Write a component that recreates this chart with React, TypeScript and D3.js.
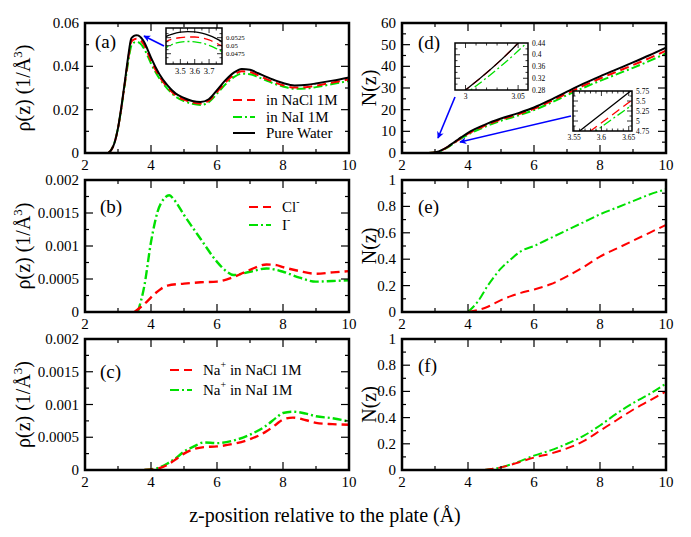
import React from "react";
import * as d3 from "d3";

const RED = "#ff0000";
const GREEN = "#00e000";
const BLACK = "#000000";
const BLUE = "#0000ff";
const FONT = '"Liberation Serif", "DejaVu Serif", serif';

// ---------- data ----------
const xTicks = [2, 4, 6, 8, 10];

// (a) water density
const zWater = [2.7, 2.8, 2.9, 3.0, 3.1, 3.2, 3.3, 3.4, 3.45, 3.5, 3.55, 3.6, 3.65, 3.7, 3.75, 3.8, 3.9, 4.0, 4.25, 4.5, 4.75, 5.0, 5.25, 5.5, 5.75, 6.0, 6.25, 6.5, 6.75, 7.0, 7.25, 7.5, 7.75, 8.0, 8.35, 8.75, 9.0, 9.5, 10];
const rhoPure = [0, 0.0015, 0.005, 0.0115, 0.021, 0.032, 0.0435, 0.0528, 0.0537, 0.0542, 0.0544, 0.0543, 0.0539, 0.0532, 0.0522, 0.0510, 0.0476, 0.0440, 0.0365, 0.0312, 0.0274, 0.0254, 0.0240, 0.0235, 0.0248, 0.0290, 0.0335, 0.0370, 0.0388, 0.0384, 0.0368, 0.0351, 0.0336, 0.0323, 0.0312, 0.0315, 0.0321, 0.0334, 0.0349];
const rhoNaCl = [0, 0.0015, 0.005, 0.0114, 0.0207, 0.0315, 0.0425, 0.0512, 0.0521, 0.0525, 0.0527, 0.0527, 0.0524, 0.0518, 0.0508, 0.0496, 0.0462, 0.0427, 0.0354, 0.0303, 0.0266, 0.0246, 0.0233, 0.0228, 0.0241, 0.0281, 0.0325, 0.0359, 0.0377, 0.0374, 0.0358, 0.0341, 0.0326, 0.0313, 0.0302, 0.0305, 0.0311, 0.0325, 0.0340];
const rhoNaI = [0, 0.0016, 0.0052, 0.0115, 0.0205, 0.031, 0.041, 0.0493, 0.0505, 0.0511, 0.0513, 0.0512, 0.0508, 0.0501, 0.0491, 0.0479, 0.0447, 0.0413, 0.0345, 0.0296, 0.0260, 0.0240, 0.0227, 0.0222, 0.0235, 0.0274, 0.0316, 0.0349, 0.0366, 0.0364, 0.0350, 0.0334, 0.0319, 0.0307, 0.0296, 0.0298, 0.0304, 0.0318, 0.0333];

// (d) water number
const zNPure = [2.8, 3.0, 3.05, 3.2, 3.4, 3.56, 3.65, 3.8, 4.0, 4.5, 5.0, 5.5, 6.0, 6.5, 7.0, 7.5, 8.0, 8.5, 9.0, 9.5, 10];
const nPure = [0, 0.28, 0.44, 1.3, 3.0, 4.75, 5.71, 7.3, 9.3, 13.0, 15.9, 18.3, 21.0, 24.5, 28.3, 32.0, 35.4, 38.6, 41.8, 45.1, 48.6];
const zNNaCl = [2.8, 3.0, 3.05, 3.2, 3.4, 3.58, 3.65, 3.8, 4.0, 4.5, 5.0, 5.5, 6.0, 6.5, 7.0, 7.5, 8.0, 8.5, 9.0, 9.5, 10];
const nNaCl = [0, 0.28, 0.44, 1.25, 2.9, 4.75, 5.46, 7.0, 8.9, 12.5, 15.4, 17.8, 20.4, 23.8, 27.5, 31.1, 34.4, 37.5, 40.6, 43.8, 47.2];
const zNNaI = [2.8, 3.005, 3.058, 3.2, 3.4, 3.59, 3.65, 3.8, 4.0, 4.5, 5.0, 5.5, 6.0, 6.5, 7.0, 7.5, 8.0, 8.5, 9.0, 9.5, 10];
const nNaI = [0, 0.28, 0.44, 1.1, 2.7, 4.75, 5.34, 6.7, 8.5, 12.0, 14.9, 17.2, 19.8, 23.1, 26.7, 30.1, 33.3, 36.3, 39.3, 42.5, 46.0];

// (b) anion density
const zCl = [3.5, 3.7, 3.9, 4.1, 4.3, 4.5, 5.0, 5.5, 6.0, 6.5, 7.0, 7.5, 7.8, 8.0, 8.5, 9.0, 9.5, 10];
const rhoCl = [0, 0.00008, 0.00017, 0.00027, 0.00035, 0.0004, 0.00043, 0.00045, 0.00046, 0.00053, 0.00064, 0.00072, 0.00071, 0.00068, 0.00062, 0.00058, 0.0006, 0.00062];
const zI = [3.6, 3.8, 4.0, 4.2, 4.4, 4.55, 4.7, 5.0, 5.5, 6.0, 6.3, 6.5, 7.0, 7.5, 8.0, 8.5, 9.0, 9.5, 10];
const rhoI = [0, 0.0004, 0.00106, 0.00152, 0.00172, 0.00177, 0.0017, 0.00147, 0.00111, 0.00076, 0.00061, 0.00056, 0.00061, 0.00066, 0.00061, 0.00052, 0.00046, 0.00047, 0.00048];

// (c) cation density
const zNa = [3.8, 4.2, 4.5, 4.8, 5.0, 5.3, 5.6, 6.0, 6.5, 7.0, 7.5, 7.8, 8.0, 8.3, 8.7, 9.0, 9.5, 10];
const rhoNaInNaCl = [0, 0.00002, 0.00008, 0.00018, 0.00025, 0.00032, 0.00035, 0.00036, 0.0004, 0.00047, 0.00059, 0.0007, 0.00077, 0.0008, 0.00076, 0.00072, 0.0007, 0.00069];
const rhoNaInNaI = [0, 0.00003, 0.0001, 0.0002, 0.00028, 0.00036, 0.00042, 0.00041, 0.00045, 0.00054, 0.00068, 0.0008, 0.00087, 0.00089, 0.00086, 0.00082, 0.00079, 0.00074];

// (e) anion number
const zNAnion = [4.0, 4.3, 4.6, 5.0, 5.3, 5.6, 6.0, 6.5, 7.0, 7.5, 8.0, 8.5, 9.0, 9.5, 10];
const nCl = [0, 0.015, 0.04, 0.09, 0.12, 0.145, 0.17, 0.21, 0.27, 0.34, 0.42, 0.48, 0.54, 0.6, 0.66];
const nI = [0, 0.08, 0.2, 0.33, 0.4, 0.46, 0.5, 0.56, 0.62, 0.68, 0.74, 0.79, 0.84, 0.89, 0.93];

// (f) cation number
const zNCation = [4.5, 5.0, 5.5, 6.0, 6.5, 7.0, 7.5, 8.0, 8.5, 9.0, 9.5, 10];
const nNaInNaCl = [0, 0.02, 0.055, 0.095, 0.125, 0.165, 0.22, 0.3, 0.38, 0.46, 0.53, 0.6];
const nNaInNaI = [0, 0.02, 0.06, 0.11, 0.15, 0.2, 0.26, 0.34, 0.43, 0.51, 0.58, 0.66];

// tick values
const yTicksA = [0, 0.02, 0.04, 0.06];
const yTicksIon = [0, 0.0005, 0.001, 0.0015, 0.002];
const yTicksD = [0, 10, 20, 30, 40, 50, 60];
const yTicksN = [0, 0.2, 0.4, 0.6, 0.8, 1];
const insetATicksX = [3.5, 3.6, 3.7];
const insetATicksY = [0.0475, 0.05, 0.0525];
const insetD1TicksX = [3, 3.05];
const insetD1TicksY = [0.28, 0.32, 0.36, 0.4, 0.44];
const insetD2TicksX = [3.55, 3.6, 3.65];
const insetD2TicksY = [4.75, 5, 5.25, 5.5, 5.75];

// ---------- styles ----------
const DASH = "9,5";
const DASHDOT = "9,3,2,3";

type Series = { z: number[]; v: number[]; color: string; dash?: string };

const zip = (z: number[], v: number[]) => z.map((d, i) => [d, v[i]] as [number, number]);

function Lines({ series, xs, ys, width }: { series: Series[]; xs: any; ys: any; width: number }) {
  const line = d3
    .line<[number, number]>()
    .x((d) => xs(d[0]))
    .y((d) => ys(d[1]))
    .curve(d3.curveMonotoneX);
  return (
    <g>
      {series.map((s, i) => (
        <path
          key={i}
          d={line(zip(s.z, s.v)) || ""}
          fill="none"
          stroke={s.color}
          strokeWidth={width}
          strokeDasharray={s.dash}
          strokeLinejoin="round"
        />
      ))}
    </g>
  );
}

type PanelProps = {
  x0: number; x1: number; y0: number; y1: number;
  yDomain: [number, number];
  yTicks: number[];
  yMinorStep: number;
  yFmt: (v: number) => string;
  series: Series[];
  lineWidth?: number;
  tag: string;
  tagX: number; tagY: number;
  ylabel: React.ReactNode;
  ylabelX: number;
  children?: React.ReactNode;
};

function Panel(p: PanelProps) {
  const xs = d3.scaleLinear().domain([2, 10]).range([p.x0, p.x1]);
  const ys = d3.scaleLinear().domain(p.yDomain).range([p.y1, p.y0]);
  const xMinor = d3.range(3, 10, 2);
  const yMinor = d3.range(p.yDomain[0] + p.yMinorStep, p.yDomain[1], p.yMinorStep).filter(
    (v) => !p.yTicks.some((t) => Math.abs(t - v) < p.yMinorStep * 0.01)
  );
  const MJ = 8, MN = 4;
  const ticks: React.ReactNode[] = [];
  xTicks.slice(1, -1).forEach((t, i) => {
    ticks.push(<line key={"xb" + i} x1={xs(t)} x2={xs(t)} y1={p.y1} y2={p.y1 - MJ} />);
    ticks.push(<line key={"xt" + i} x1={xs(t)} x2={xs(t)} y1={p.y0} y2={p.y0 + MJ} />);
  });
  xMinor.forEach((t, i) => {
    ticks.push(<line key={"xbm" + i} x1={xs(t)} x2={xs(t)} y1={p.y1} y2={p.y1 - MN} />);
    ticks.push(<line key={"xtm" + i} x1={xs(t)} x2={xs(t)} y1={p.y0} y2={p.y0 + MN} />);
  });
  p.yTicks.slice(1, -1).forEach((t, i) => {
    ticks.push(<line key={"yl" + i} x1={p.x0} x2={p.x0 + MJ} y1={ys(t)} y2={ys(t)} />);
    ticks.push(<line key={"yr" + i} x1={p.x1} x2={p.x1 - MJ} y1={ys(t)} y2={ys(t)} />);
  });
  yMinor.forEach((t, i) => {
    ticks.push(<line key={"ylm" + i} x1={p.x0} x2={p.x0 + MN} y1={ys(t)} y2={ys(t)} />);
    ticks.push(<line key={"yrm" + i} x1={p.x1} x2={p.x1 - MN} y1={ys(t)} y2={ys(t)} />);
  });
  const clipId = "clip" + p.tag.replace(/[()]/g, "");
  return (
    <g>
      <defs>
        <clipPath id={clipId}>
          <rect x={p.x0} y={p.y0} width={p.x1 - p.x0} height={p.y1 - p.y0} />
        </clipPath>
      </defs>
      <g clipPath={`url(#${clipId})`}>
        <Lines series={p.series} xs={xs} ys={ys} width={p.lineWidth ?? 2} />
      </g>
      <g stroke="#000" strokeWidth={1.2}>{ticks}</g>
      <rect x={p.x0} y={p.y0} width={p.x1 - p.x0} height={p.y1 - p.y0} fill="none" stroke="#000" strokeWidth={2.5} />
      <g style={{ fontFamily: FONT, fontSize: "15px" }} fill="#000">
        {xTicks.map((t) => (
          <text key={"xl" + t} x={xs(t)} y={p.y1 + 17} textAnchor="middle">{t}</text>
        ))}
        {p.yTicks.map((t) => (
          <text key={"yl" + t} x={p.x0 - 6} y={ys(t) + 5} textAnchor="end">{p.yFmt(t)}</text>
        ))}
      </g>
      <text x={p.tagX} y={p.tagY} style={{ fontFamily: FONT, fontSize: "19px" }}>{p.tag}</text>
      <text
        transform={`translate(${p.ylabelX},${(p.y0 + p.y1) / 2}) rotate(-90)`}
        textAnchor="middle"
        style={{ fontFamily: FONT, fontSize: "20px" }}
      >
        {p.ylabel}
      </text>
      {p.children}
    </g>
  );
}

type InsetProps = {
  x0: number; x1: number; y0: number; y1: number;
  xDomain: [number, number]; yDomain: [number, number];
  xTicks: number[]; yTicks: number[];
  xMinor: number[]; yMinor: number[];
  xFmt: (v: number) => string; yFmt: (v: number) => string;
  series: Series[];
  id: string;
  xLabelFont: number; yLabelFont: number;
};

function Inset(p: InsetProps) {
  const xs = d3.scaleLinear().domain(p.xDomain).range([p.x0, p.x1]);
  const ys = d3.scaleLinear().domain(p.yDomain).range([p.y1, p.y0]);
  const MJ = 5, MN = 2.5;
  const ticks: React.ReactNode[] = [];
  const inX = (t: number) => xs(t) > p.x0 + 0.5 && xs(t) < p.x1 - 0.5;
  const inY = (t: number) => ys(t) < p.y1 - 0.5 && ys(t) > p.y0 + 0.5;
  p.xTicks.filter(inX).forEach((t, i) => {
    ticks.push(<line key={"a" + i} x1={xs(t)} x2={xs(t)} y1={p.y1} y2={p.y1 - MJ} />);
    ticks.push(<line key={"b" + i} x1={xs(t)} x2={xs(t)} y1={p.y0} y2={p.y0 + MJ} />);
  });
  p.xMinor.filter(inX).forEach((t, i) => {
    ticks.push(<line key={"c" + i} x1={xs(t)} x2={xs(t)} y1={p.y1} y2={p.y1 - MN} />);
    ticks.push(<line key={"d" + i} x1={xs(t)} x2={xs(t)} y1={p.y0} y2={p.y0 + MN} />);
  });
  p.yTicks.filter(inY).forEach((t, i) => {
    ticks.push(<line key={"e" + i} x1={p.x0} x2={p.x0 + MJ} y1={ys(t)} y2={ys(t)} />);
    ticks.push(<line key={"f" + i} x1={p.x1} x2={p.x1 - MJ} y1={ys(t)} y2={ys(t)} />);
  });
  p.yMinor.filter(inY).forEach((t, i) => {
    ticks.push(<line key={"g" + i} x1={p.x0} x2={p.x0 + MN} y1={ys(t)} y2={ys(t)} />);
    ticks.push(<line key={"h" + i} x1={p.x1} x2={p.x1 - MN} y1={ys(t)} y2={ys(t)} />);
  });
  return (
    <g>
      <defs>
        <clipPath id={p.id}>
          <rect x={p.x0} y={p.y0} width={p.x1 - p.x0} height={p.y1 - p.y0} />
        </clipPath>
      </defs>
      <rect x={p.x0} y={p.y0} width={p.x1 - p.x0} height={p.y1 - p.y0} fill="#fff" />
      <g clipPath={`url(#${p.id})`}>
        <Lines series={p.series} xs={xs} ys={ys} width={1.3} />
      </g>
      <g stroke="#000" strokeWidth={0.8}>{ticks}</g>
      <rect x={p.x0} y={p.y0} width={p.x1 - p.x0} height={p.y1 - p.y0} fill="none" stroke="#000" strokeWidth={1.5} />
      <g style={{ fontFamily: FONT }} fill="#000">
        {p.xTicks.map((t) => (
          <text key={"x" + t} x={xs(t)} y={p.y1 + p.xLabelFont + 1} textAnchor="middle" style={{ fontSize: p.xLabelFont + "px" }}>{p.xFmt(t)}</text>
        ))}
        {p.yTicks.map((t) => (
          <text key={"y" + t} x={p.x1 + 4} y={ys(t) + p.yLabelFont * 0.35} textAnchor="start" style={{ fontSize: p.yLabelFont + "px" }}>{p.yFmt(t)}</text>
        ))}
      </g>
    </g>
  );
}

function Arrow({ x1, y1, x2, y2 }: { x1: number; y1: number; x2: number; y2: number }) {
  return <line x1={x1} y1={y1} x2={x2} y2={y2} stroke={BLUE} strokeWidth={1.6} markerEnd="url(#arrowBlue)" />;
}

function LegendEntry({ x, y, color, dash, label }: { x: number; y: number; color: string; dash?: string; label: React.ReactNode }) {
  return (
    <g>
      <line x1={x} x2={x + 22} y1={y} y2={y} stroke={color} strokeWidth={2} strokeDasharray={dash} />
      <text x={x + 33} y={y + 5} style={{ fontFamily: FONT, fontSize: "15px" }}>{label}</text>
    </g>
  );
}

const rhoLabel = (
  <>
    ρ(z) (1/Å<tspan dy={-8} style={{ fontSize: "13px" }}>3</tspan><tspan dy={8}>)</tspan>
  </>
);

export default function App() {
  const fmt = (v: number) => (v === 0 ? "0" : String(+v.toPrecision(4)));
  const L = { x0: 85, x1: 349 };
  const R = { x0: 402, x1: 666 };
  const r1 = { y0: 23, y1: 153 };
  const r2 = { y0: 180, y1: 312 };
  const r3 = { y0: 339, y1: 470 };

  const waterSeries: Series[] = [
    { z: zWater, v: rhoNaI, color: GREEN, dash: DASHDOT },
    { z: zWater, v: rhoNaCl, color: RED, dash: DASH },
    { z: zWater, v: rhoPure, color: BLACK },
  ];
  const nWaterSeries: Series[] = [
    { z: zNNaI, v: nNaI, color: GREEN, dash: DASHDOT },
    { z: zNNaCl, v: nNaCl, color: RED, dash: DASH },
    { z: zNPure, v: nPure, color: BLACK },
  ];

  return (
    <svg width={691} height={537} viewBox="0 0 691 537" style={{ display: "block", position: "absolute", left: 0, top: 0, background: "#fff", fontFamily: FONT }}>
      <defs>
        <marker id="arrowBlue" viewBox="0 0 10 10" refX={9} refY={5} markerWidth={7} markerHeight={7} orient="auto" markerUnits="userSpaceOnUse">
          <path d="M0,0 L10,5 L0,10 L3,5 z" fill={BLUE} />
        </marker>
      </defs>
      <rect x={0} y={0} width={691} height={537} fill="#fff" />

      {/* (a) */}
      <Panel {...L} {...r1} yDomain={[0, 0.06]} yTicks={yTicksA} yMinorStep={0.01} yFmt={fmt}
        series={waterSeries} tag="(a)" tagX={95} tagY={48} ylabel={rhoLabel} ylabelX={30}>
        <LegendEntry x={233} y={100} color={RED} dash={DASH} label="in NaCl 1M" />
        <LegendEntry x={233} y={117} color={GREEN} dash={DASHDOT} label="in NaI 1M" />
        <LegendEntry x={233} y={133} color={BLACK} label="Pure Water" />
        <Inset id="insA" x0={166} x1={222} y0={28} y1={64} xDomain={[3.4, 3.79]} yDomain={[0.0443, 0.0555]}
          xTicks={insetATicksX} yTicks={insetATicksY} xMinor={[3.45, 3.55, 3.65, 3.75]} yMinor={[0.04625, 0.04875, 0.05125, 0.05375]}
          xFmt={(v) => String(v)} yFmt={(v) => String(v)} series={waterSeries} xLabelFont={8.5} yLabelFont={6.8} />
        <Arrow x1={164} y1={46} x2={144} y2={36} />
      </Panel>

      {/* (d) */}
      <Panel {...R} {...r1} yDomain={[0, 60]} yTicks={yTicksD} yMinorStep={5} yFmt={fmt}
        series={nWaterSeries} tag="(d)" tagX={418} tagY={49} ylabel="N(z)" ylabelX={376}>
        <Inset id="insD1" x0={455} x1={528} y0={43} y1={90} xDomain={[2.99, 3.0594]} yDomain={[0.28, 0.44]}
          xTicks={insetD1TicksX} yTicks={insetD1TicksY} xMinor={[3.01, 3.02, 3.03, 3.04]} yMinor={[0.3, 0.34, 0.38, 0.42]}
          xFmt={(v) => String(v)} yFmt={(v) => String(v)} series={nWaterSeries} xLabelFont={7.5} yLabelFont={7.5} />
        <Inset id="insD2" x0={573} x1={632} y0={91} y1={131} xDomain={[3.548, 3.656]} yDomain={[4.75, 5.75]}
          xTicks={insetD2TicksX} yTicks={insetD2TicksY} xMinor={[3.56, 3.57, 3.58, 3.59, 3.61, 3.62, 3.63, 3.64]} yMinor={[4.875, 5.125, 5.375, 5.625]}
          xFmt={(v) => String(v)} yFmt={(v) => String(v)} series={nWaterSeries} xLabelFont={7.5} yLabelFont={7.5} />
        <Arrow x1={455} y1={97} x2={438} y2={138} />
        <Arrow x1={571} y1={116} x2={460} y2={142} />
      </Panel>

      {/* (b) */}
      <Panel {...L} {...r2} yDomain={[0, 0.002]} yTicks={yTicksIon} yMinorStep={0.00025} yFmt={fmt}
        lineWidth={2.4}
        series={[
          { z: zI, v: rhoI, color: GREEN, dash: DASHDOT },
          { z: zCl, v: rhoCl, color: RED, dash: DASH },
        ]}
        tag="(b)" tagX={100} tagY={213} ylabel={rhoLabel} ylabelX={30}>
        <LegendEntry x={249} y={207} color={RED} dash={DASH} label={<>Cl<tspan dy={-7} style={{ fontSize: "10px" }}>-</tspan></>} />
        <LegendEntry x={249} y={225} color={GREEN} dash={DASHDOT} label={<>I<tspan dy={-7} style={{ fontSize: "10px" }}>-</tspan></>} />
      </Panel>

      {/* (e) */}
      <Panel {...R} {...r2} yDomain={[0, 1]} yTicks={yTicksN} yMinorStep={0.1} yFmt={fmt}
        series={[
          { z: zNAnion, v: nI, color: GREEN, dash: DASHDOT },
          { z: zNAnion, v: nCl, color: RED, dash: DASH },
        ]}
        tag="(e)" tagX={418} tagY={213} ylabel="N(z)" ylabelX={376} />

      {/* (c) */}
      <Panel {...L} {...r3} yDomain={[0, 0.002]} yTicks={yTicksIon} yMinorStep={0.00025} yFmt={fmt}
        lineWidth={2.4}
        series={[
          { z: zNa, v: rhoNaInNaI, color: GREEN, dash: DASHDOT },
          { z: zNa, v: rhoNaInNaCl, color: RED, dash: DASH },
        ]}
        tag="(c)" tagX={100} tagY={378} ylabel={rhoLabel} ylabelX={30}>
        <LegendEntry x={170} y={370} color={RED} dash={DASH} label={<>Na<tspan dy={-7} style={{ fontSize: "10px" }}>+</tspan><tspan dy={7}> in NaCl 1M</tspan></>} />
        <LegendEntry x={170} y={390} color={GREEN} dash={DASHDOT} label={<>Na<tspan dy={-7} style={{ fontSize: "10px" }}>+</tspan><tspan dy={7}> in NaI 1M</tspan></>} />
      </Panel>

      {/* (f) */}
      <Panel {...R} {...r3} yDomain={[0, 1]} yTicks={yTicksN} yMinorStep={0.1} yFmt={fmt}
        series={[
          { z: zNCation, v: nNaInNaI, color: GREEN, dash: DASHDOT },
          { z: zNCation, v: nNaInNaCl, color: RED, dash: DASH },
        ]}
        tag="(f)" tagX={418} tagY={372} ylabel="N(z)" ylabelX={376} />

      <text x={325} y={522} textAnchor="middle" style={{ fontFamily: FONT, fontSize: "20px" }}>
        z-position relative to the plate (Å)
      </text>
    </svg>
  );
}
